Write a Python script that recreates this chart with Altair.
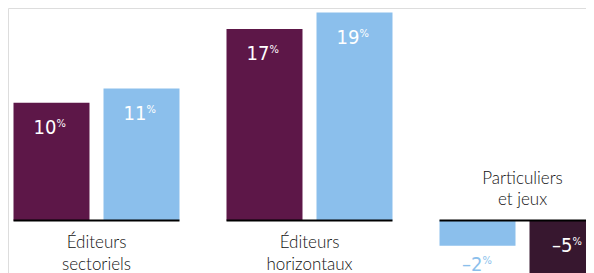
import altair as alt
import pandas as pd

# ---- data ----
groups = ["Éditeurs\nsectoriels", "Éditeurs\nhorizontaux", "Particuliers\net jeux"]
series_order = [["A", "B"], ["A", "B"], ["B", "A"]]      # left-to-right bar order per group
values = [[10.7, 12.0], [17.4, 18.9], [-2.3, -5.5]]      # bar heights (%)
labels = [["10", "11"], ["17", "19"], ["–2", "–5"]]      # printed labels

rows = []
for g, sers, vals, labs in zip(groups, series_order, values, labels):
    for pos, (s, v, l) in enumerate(zip(sers, vals, labs)):
        inside = abs(v) >= 4
        ckey = s if v >= 0 else s + "neg"
        rows.append(dict(group=g, pos=pos, series=s, value=v, label=l,
                         ckey=ckey, inside=inside,
                         anchor=(v if v > 0 else (0 if inside else v))))
df = pd.DataFrame(rows)

grp_rows = []
for g, vals in zip(groups, values):
    l1, l2 = g.split("\n")
    grp_rows.append(dict(group=g, line1=l1, line2=l2, above=min(vals) < 0))
gdf = pd.DataFrame(grp_rows)

color_dom = ["A", "B", "Aneg", "Bneg"]
color_rng = ["#5d1748", "#8bbfec", "#37172f", "#8bbfec"]
cscale = alt.Scale(domain=color_dom, range=color_rng)

W, H = 578, 265
xscale = alt.Scale(domain=groups, range=[5.5, 597.5], paddingInner=0.2207, paddingOuter=0)
yscale = alt.Scale(domain=[-4.77, 19.32], nice=False, zero=True)
oscale = alt.Scale(domain=[0, 1], paddingInner=0.1556, paddingOuter=0)

X = alt.X("group:N", scale=xscale, axis=None, sort=groups)
XO = alt.XOffset("pos:N", scale=oscale)

base = alt.Chart(df)

bars = base.mark_bar(clip=True).encode(
    x=X, xOffset=XO,
    y=alt.Y("value:Q", scale=yscale, axis=None),
    color=alt.Color("ckey:N", scale=cscale, legend=None),
)

baseline = alt.Chart(gdf).mark_bar(fill="black", stroke="black", strokeWidth=2, clip=True).encode(
    x=X,
    y=alt.Y(datum=0, scale=yscale),
    y2=alt.Y2(datum=0),
)

NUMFONT = "DejaVu Sans Condensed"

def value_layers(filt, dy, colored):
    layers = []
    for text_field, size, ddy, align in [("label", 20, dy, "right"), (None, 11, dy - 7, "left")]:
        mk = base.mark_text(font=NUMFONT, fontSize=size, align=align, baseline="alphabetic",
                            dx=5, dy=ddy)
        enc = dict(x=X, xOffset=XO, y=alt.Y("anchor:Q", scale=yscale))
        if text_field:
            enc["text"] = alt.Text("label:N")
        else:
            enc["text"] = alt.value("%")
        if colored:
            enc["color"] = alt.Color("ckey:N", scale=cscale, legend=None)
        else:
            enc["color"] = alt.value("white")
        layers.append(mk.encode(**enc).transform_filter(filt))
    return layers

inside_layers = value_layers(alt.datum.inside == True, 31, False)
outside_layers = value_layers(alt.datum.inside == False, 25, True)

CATFONT = "Lato"
def cat_layer(field, filt, dy):
    return alt.Chart(gdf).mark_text(font=CATFONT, fontSize=17, fontWeight=300, color="#111111",
                                    baseline="alphabetic", dy=dy).encode(
        x=X, y=alt.Y(datum=0, scale=yscale), text=alt.Text(f"{field}:N"),
    ).transform_filter(filt)

cats = [
    cat_layer("line1", alt.datum.above == False, 27.5),
    cat_layer("line2", alt.datum.above == False, 49.5),
    cat_layer("line1", alt.datum.above == True, -36.5),
    cat_layer("line2", alt.datum.above == True, -15.5),
]

chart = alt.layer(bars, baseline, *inside_layers, *outside_layers, *cats).properties(
    width=W, height=H, padding=0,
    autosize=alt.AutoSizeParams(type="none"),
).configure_view(stroke=None).configure(background="white")

chart.save("out.html", embed_options={"renderer": "svg", "actions": False})
